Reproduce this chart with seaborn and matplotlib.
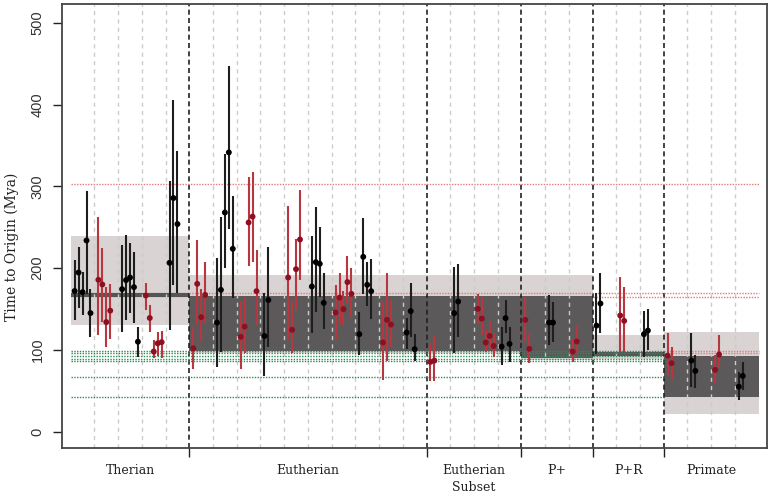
## origin times per locus with group intervals

import numpy as np
import pandas as pd
import seaborn as sns
import matplotlib.pyplot as plt
import matplotlib.transforms as mtrans

# groups of loci along the x axis
groups = ["Therian", "Eutherian", "Eutherian\nSubset", "P+", "P+R", "Primate"]
loci_per_group = [5, 10, 4, 3, 3, 4]

# group intervals (Mya): light band, dark band, median bar (nan = not drawn)
light_lo = [130.6, 96.0, 96.0, 87.8, 88.6, 21.7]
light_hi = [238.7, 191.8, 191.8, 191.8, 118.0, 122.4]
dark_lo = [np.nan, 98.8, 98.8, 89.8, 92.6, 42.1]
dark_hi = [np.nan, 166.5, 166.5, 166.5, 96.0, 93.0]
median = [167.3, np.nan, np.nan, np.nan, 94.5, np.nan]

# estimates: locus index, point estimate, lower, upper
locus = [0, 0, 0, 0, 0, 1, 1, 1, 1, 2, 2, 2, 2, 2, 3, 3, 3, 3, 3, 4, 4, 4,
         5, 5, 5, 5, 6, 6, 6, 6, 6, 7, 7, 7, 7, 7, 8, 8, 9, 9, 9, 9,
         10, 10, 10, 10, 11, 11, 11, 11, 11, 12, 12, 12, 12, 13, 13, 13, 14, 14, 14,
         15, 15, 16, 16, 17, 17, 17, 17, 17, 18, 18, 18,
         19, 19, 20, 20, 21, 21,
         22, 22, 23, 23, 24, 24,
         25, 25, 26, 26, 27, 27, 28, 28]
est = [172, 194.6, 170.6, 233.8, 145, 185.7, 180, 134, 148,
       174.3, 185.3, 188.5, 176.7, 110, 166.5, 139, 98, 108, 109.4,
       206.5, 285.7, 253.9,
       102, 180.8, 140, 167.3, 133.4, 173.4, 268, 341.5, 223.6,
       116, 128.5, 255.8, 263, 171.8, 117, 161, 188.5, 124.5, 198.7, 235,
       177.5, 207.3, 205.3, 157.5, 145.7, 164, 149.8, 182.9, 168.5,
       119.2, 213.8, 179.6, 171.8, 109, 136.7, 131, 121.2, 147.4, 100.8,
       85.3, 86.9, 144.9, 159.1, 150.2, 138.3, 109, 117.1, 104.9, 104, 138.8, 107.3,
       136.7, 101.2, 133.4, 133.4, 97.9, 110.2,
       129.7, 156.7, 142, 135.5, 119.2, 123.6,
       93, 83.7, 86.9, 74.3, 75.5, 94.3, 55, 68.2]
lower = [136, 151, 142.8, 168, 116, 118, 134.6, 104, 113,
         122.4, 136.7, 145.7, 132.7, 91.8, 149, 122.4, 90, 92.7, 90,
         124.5, 179.6, 169.4,
         76.4, 130.6, 110, 131.8, 79.6, 98, 200, 247.7, 163,
         76.4, 96, 202, 208, 130.6, 68, 104, 113, 96, 149, 185.7,
         121.2, 146.9, 165.2, 125.3, 113, 133.4, 129.7, 156.3, 138.8,
         93.9, 168, 153.9, 138, 63.3, 86.5, 104, 100.8, 116.3, 86.9,
         62, 62, 96, 116.3, 132.7, 118.4, 97.9, 100, 91, 81.6, 120.4, 85,
         110.2, 83.7, 106.1, 109.4, 85.7, 96,
         95.1, 120.4, 97.9, 97.9, 91, 100,
         68.2, 63.3, 55, 53, 58, 77.6, 38.8, 51]
upper = [210, 226, 195, 293.8, 174, 263, 224.5, 176.7, 180.8,
         228.5, 240.8, 230.6, 220.3, 128.5, 181.6, 155, 112, 122.4, 123.6,
         306, 405, 342.7,
         128.5, 234.6, 174.3, 207, 212, 262, 340, 446.8, 287.6,
         158, 165, 312, 318, 222.4, 169.4, 226.4, 275.4, 158, 236, 295,
         239.5, 274.7, 249.7, 193.9, 179.6, 193.9, 171.8, 214.2, 200.7,
         146.9, 260.7, 208, 211.4, 159.1, 193.9, 162.4, 139.5, 181.6, 119.2,
         108.2, 117.1, 201.2, 205.3, 168.5, 165.2, 124.5, 135.9, 121.2, 128.5, 161.2, 128.5,
         165.2, 119.6, 167.3, 158.4, 112.2, 129.4,
         169.4, 193.9, 189, 176.7, 148.1, 149.8,
         121.2, 104, 120.4, 93.9, 93.9, 118.4, 73.4, 85.7]
# series of each locus (black / red alternating)
locus_series = ["A", "B"] * 14 + ["A"]

# reference lines (Mya) and the locus they start from
red_lines = [303, 169.4, 165.2, 98.4, 96.0]
red_from = [0, 5, 22, 25, 25]
green_lines = [99.1, 96.0, 92.6, 89.4, 86.5, 66.5, 42.8]

df = pd.DataFrame({"locus": locus, "est": est, "lower": lower, "upper": upper})
df["series"] = [locus_series[l] for l in df["locus"]]
df["pos"] = df["locus"] + (df.groupby("locus").cumcount() + 1) / 6

bounds = np.concatenate([[0], np.cumsum(loci_per_group)])
n_loci = bounds[-1]

sns.set_style("white")
fig = plt.figure(figsize=(7.71, 4.98), dpi=100)
ax = fig.add_axes([62 / 771, 50 / 498, 705 / 771, 444 / 498])

light_col = "#d9d3d3"
dark_col = "#5b595a"
for g in range(len(groups)):
    x0, x1 = bounds[g], bounds[g + 1]
    ax.fill_between([x0, x1], light_lo[g], light_hi[g], color=light_col, lw=0, zorder=1)
    if not np.isnan(dark_lo[g]):
        ax.fill_between([x0, x1], dark_lo[g], dark_hi[g], color=dark_col, lw=0, zorder=1.5)
    if not np.isnan(median[g]):
        ax.hlines(median[g], x0, x1, color="#555555", lw=3, zorder=1.6)

# locus separators
for i in range(1, n_loci):
    if i in bounds:
        ax.axvline(i, color="#222222", lw=1.2, ls=(0, (3, 2)), zorder=2)
    else:
        ax.axvline(i, color="#cccccc", lw=1, ls=(0, (3, 3)), zorder=2)

for y, x0 in zip(red_lines, red_from):
    ax.hlines(y, x0, n_loci, color="#e07b7b", lw=1, ls=(0, (1, 1)), zorder=3)
for y in green_lines:
    ax.hlines(y, 0, bounds[5], color="#2e8b57", lw=1, ls=(0, (1, 1)), zorder=3)

palette = {"A": "#000000", "B": "#8e0f1f"}
bar_palette = {"A": "#1e1e1e", "B": "#b83640"}
ax.vlines(df["pos"], df["lower"], df["upper"],
          colors=[bar_palette[s] for s in df["series"]], lw=1.5, zorder=4)
sns.scatterplot(data=df, x="pos", y="est", hue="series", palette=palette,
                s=18, edgecolor="none", legend=False, zorder=5, ax=ax)

ax.set_xlim(-0.367, 29.355)
ax.set_ylim(-20, 523)
ax.set_xlabel("")
ax.set_ylabel("")

ax.set_yticks([0, 100, 200, 300, 400, 500])
ax.set_yticklabels(["0", "100", "200", "300", "400", "500"], rotation=90, va="center")
for lbl in ax.get_yticklabels():
    lbl.set_fontfamily("Liberation Sans")
    lbl.set_fontsize(10.5)
    lbl.set_color("#333333")
ax.set_xticks(bounds[1:-1])
ax.set_xticklabels([])
ax.tick_params(axis="both", direction="out", length=6.5, width=1, color="#222222",
               left=True, bottom=True)
ax.tick_params(axis="y", pad=6)

for sp in ax.spines.values():
    sp.set_visible(True)
    sp.set_color("#444444")
    sp.set_linewidth(1.3)

trans = mtrans.blended_transform_factory(ax.transData, ax.transAxes)
for g, name in enumerate(groups):
    ax.text((bounds[g] + bounds[g + 1]) / 2, -0.036, name, transform=trans,
            ha="center", va="top", family="DejaVu Serif", fontsize=9,
            linespacing=1.45, color="#222222")

fig.text(12 / 771, 0.504, "Time to Origin (Mya)", rotation=90, ha="center", va="center",
         family="DejaVu Serif", fontsize=10, color="#222222")

fig.savefig("out.png", dpi=100)
plt.close()
